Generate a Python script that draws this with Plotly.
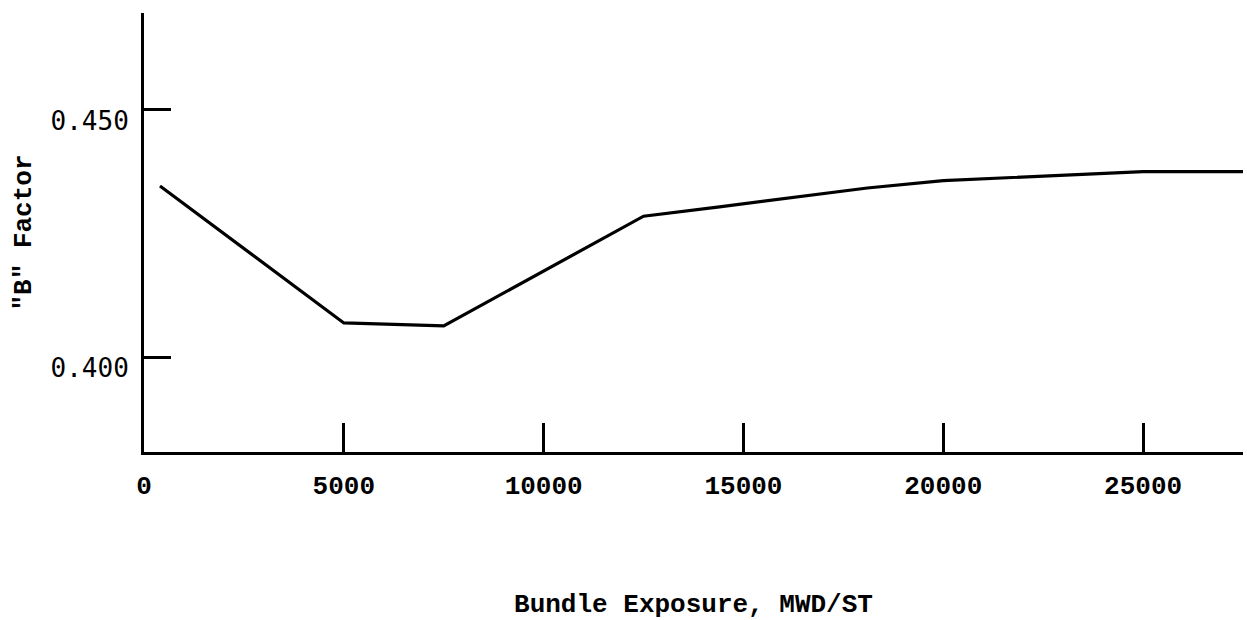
import plotly.graph_objects as go

# Data
exposure = [400, 5000, 7500, 12500, 14400, 18100, 20000, 25000, 27500]
b_factor = [0.4346, 0.4069, 0.4063, 0.4285, 0.4304, 0.4342, 0.4357, 0.4375, 0.4375]

x_ticks = [0, 5000, 10000, 15000, 20000, 25000]
x_ticklabels = ["0", "5000", "10000", "15000", "20000", "25000"]
y_ticks = [0.400, 0.450]
y_ticklabels = ["0.400", "0.450"]

MONO = "Liberation Mono"
GOTHIC = "DejaVu Sans Mono"

fig = go.Figure()
fig.add_trace(go.Scatter(
    x=exposure, y=b_factor, mode="lines",
    line=dict(color="black", width=3.2),
    showlegend=False, hoverinfo="skip",
))

fig.update_layout(
    width=1247, height=620,
    margin=dict(l=144, r=4, t=13, b=168),
    paper_bgcolor="white", plot_bgcolor="white",
    font=dict(family=MONO, color="black", size=26),
)

fig.update_xaxes(
    range=[0, 27500], automargin=False,
    tickvals=x_ticks, ticktext=x_ticklabels,
    ticks="inside", ticklen=29, tickwidth=3, tickcolor="black",
    showline=True, linewidth=3, linecolor="black",
    showgrid=False, zeroline=False,
    tickfont=dict(family=MONO, size=26, color="black", weight="bold"),
    ticklabelstandoff=8,
    title=dict(text="Bundle Exposure, MWD/ST",
               font=dict(family=MONO, size=26, color="black", weight="bold"),
               standoff=100),
)
fig.update_yaxes(
    range=[0.3808, 0.4696], automargin=False,
    tickvals=y_ticks, ticktext=y_ticklabels,
    ticks="inside", ticklen=27, tickwidth=3, tickcolor="black",
    showline=True, linewidth=3, linecolor="black",
    showgrid=False, zeroline=False,
    tickfont=dict(family=GOTHIC, size=26, color="black"),
    ticklabelstandoff=7, ticklabelshift=11,
    title=dict(text='"B" Factor',
               font=dict(family=MONO, size=26, color="black", weight="bold"),
               standoff=12),
)

fig.write_html(
    "out.html",
    config={"displayModeBar": False},
    post_script="document.body.style.margin='0';document.body.style.overflow='hidden';",
)
